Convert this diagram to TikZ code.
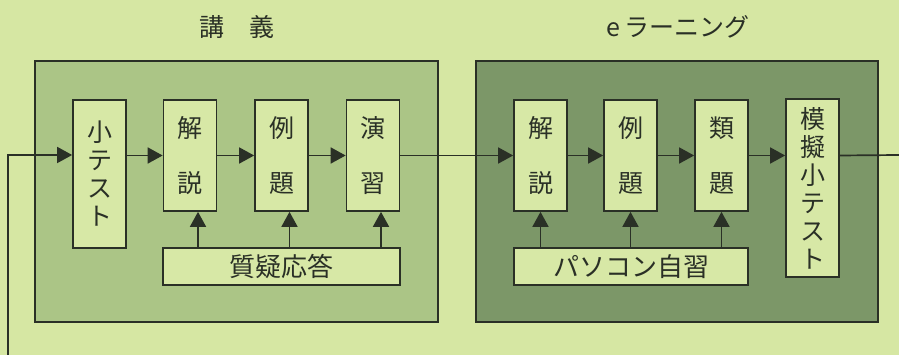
\documentclass[tikz,border=0pt]{standalone}
\usepackage{fontspec}
\setmainfont{Noto Sans CJK JP}
\usetikzlibrary{arrows.meta,calc}
\definecolor{bgc}{RGB}{214,231,163}
\definecolor{panelL}{RGB}{171,197,134}
\definecolor{panelR}{RGB}{124,151,104}
\definecolor{boxc}{RGB}{215,232,166}
\definecolor{inkc}{RGB}{42,48,38}
\tikzset{
  panel/.style={draw=inkc, line width=1.8pt, inner sep=0pt, rectangle},
  stepbox/.style={draw=inkc, fill=boxc, line width=1.7pt, inner sep=0pt, rectangle, align=center, text=inkc},
  twochar/.style={stepbox, font=\fontsize{25}{55}\selectfont, minimum width=53pt, minimum height=111pt},
  tallbox/.style={stepbox, font=\fontsize{25}{28}\selectfont, minimum width=53pt},
  widebox/.style={stepbox, font=\fontsize{26}{28}\selectfont, minimum height=37pt},
  title/.style={font=\fontsize{25}{28}\selectfont, text=inkc, inner sep=0pt},
  flow/.style={draw=inkc, line width=1.7pt, -{Triangle[length=15pt,width=16pt]}},
  plain/.style={draw=inkc, line width=1.7pt}
}
\begin{document}
\begin{tikzpicture}[x=1pt,y=1pt]
\fill[bgc] (0,0) rectangle (899,355);
\useasboundingbox (0,0) rectangle (899,355);
% titles
\node[title] (tL) at (237,328) {講　義};
\node[title] (tR) at (678,328) {e\,ラーニング};
% panels
\node[panel, fill=panelL, minimum width=403pt, minimum height=261pt] (pL) at (236.5,163.5) {};
\node[panel, fill=panelR, minimum width=402pt, minimum height=261pt] (pR) at (677,163.5) {};
% left boxes
\node[tallbox, minimum height=148pt] (sT) at (99.5,181) {小\\テ\\ス\\ト};
\node[twochar] (kL) at (190,199.5) {解\\説};
\node[twochar] (rL) at (281.5,199.5) {例\\題};
\node[twochar] (eL) at (373,199.5) {演\\習};
\node[widebox, minimum width=237pt] (qa) at (281.5,88.5) {質疑応答};
% right boxes
\node[twochar] (kR) at (540.5,199.5) {解\\説};
\node[twochar] (rR) at (630.5,199.5) {例\\題};
\node[twochar] (ruR) at (721.5,199.5) {類\\題};
\node[tallbox, minimum height=178pt] (mT) at (812.5,167) {模\\擬\\小\\テ\\ス\\ト};
\node[widebox, minimum width=234pt] (pc) at (631,88.5) {パソコン自習};
% loop coordinates
\coordinate (loopS) at (8,0);
\coordinate (loopC) at (8,200);
\coordinate (outE) at (899,200);
% main flow
\draw[flow] (loopS) -- (loopC) -- (sT.west |- loopC);
\draw[flow] (sT.east |- kL.west) -- (kL.west);
\draw[flow] (kL.east) -- (rL.west);
\draw[flow] (rL.east) -- (eL.west);
\draw[flow] (eL.east) -- (kR.west);
\draw[flow] (kR.east) -- (rR.west);
\draw[flow] (rR.east) -- (ruR.west);
\draw[flow] (ruR.east) -- (mT.west |- ruR.west);
\draw[plain] (mT.east |- ruR.east) -- (outE);
% support arrows
\draw[flow] ([xshift=8pt]qa.north -| kL.south) -- ([xshift=8pt]kL.south);
\draw[flow] ([xshift=8pt]qa.north -| rL.south) -- ([xshift=8pt]rL.south);
\draw[flow] ([xshift=8pt]qa.north -| eL.south) -- ([xshift=8pt]eL.south);
\draw[flow] (pc.north -| kR.south) -- (kR.south);
\draw[flow] (pc.north -| rR.south) -- (rR.south);
\draw[flow] (pc.north -| ruR.south) -- (ruR.south);
\end{tikzpicture}
\end{document}
